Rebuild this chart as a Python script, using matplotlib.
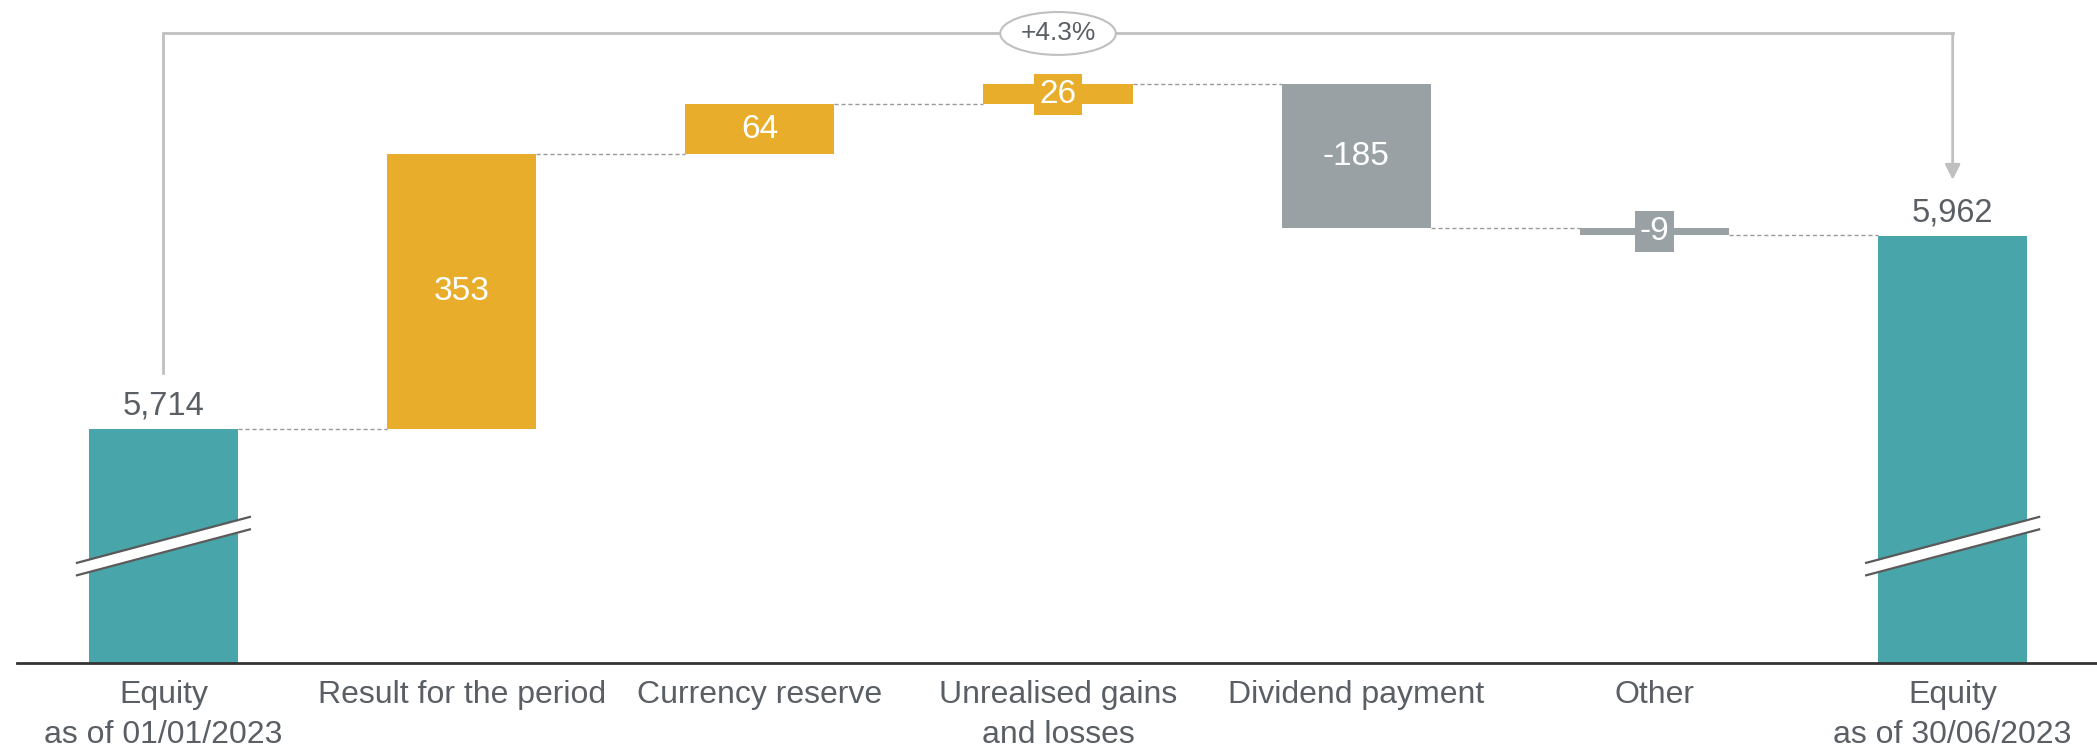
import matplotlib
matplotlib.use("Agg")
import matplotlib.pyplot as plt
import numpy as np

plt.rcParams["font.family"] = ["Liberation Sans", "DejaVu Sans"]

# data
categories = [
    "Equity\nas of 01/01/2023",
    "Result for the period",
    "Currency reserve",
    "Unrealised gains\nand losses",
    "Dividend payment",
    "Other",
    "Equity\nas of 30/06/2023",
]
start_equity = 5714
changes = [353, 64, 26, -185, -9]
end_equity = 5962
change_pct = "+4.3%"

TEAL = "#48A5AA"
GOLD = "#E8AD2A"
GREY = "#9AA1A4"
TEXT = "#595F64"
LINE = "#C0C0C0"

fig = plt.figure(figsize=(20.97, 7.52), dpi=100)
ax = fig.add_axes([0, 0.118, 1, 0.882])
ax.set_xlim(-0.548, 6.484)
ymin, ymax = 5413, 6265
ax.set_ylim(ymin, ymax)
for s in ax.spines.values():
    s.set_visible(False)
ax.set_yticks([])

w = 0.5
n = len(categories)
x = np.arange(n)

# equity bars (broken axis, drawn from the bottom)
ax.bar([x[0], x[-1]], [start_equity - ymin, end_equity - ymin], w,
       bottom=ymin, color=TEAL, zorder=2)

# floating bars
running = start_equity
levels = [start_equity]
for i, c in enumerate(changes, start=1):
    lo, hi = (running, running + c) if c >= 0 else (running + c, running)
    col = GOLD if c >= 0 else GREY
    ax.bar(x[i], hi - lo, w, bottom=lo, color=col, zorder=2)
    small = (hi - lo) < 40
    bbox = dict(boxstyle="square,pad=0.15", fc=col, ec="none") if small else None
    ax.text(x[i], (lo + hi) / 2, f"{c:d}", ha="center", va="center",
            color="white", fontsize=24, bbox=bbox, zorder=3)
    running += c
    levels.append(running)

# dashed connectors
for i in range(n - 1):
    lvl = levels[i]
    ax.plot([x[i] + w / 2, x[i + 1] - w / 2], [lvl, lvl], ls=(0, (3, 2)),
            color="#9A9A9A", lw=1, zorder=1)

# totals above equity bars
for xi, v in [(x[0], start_equity), (x[-1], end_equity)]:
    ax.annotate(f"{v:,}", (xi, v), xytext=(0, 5), textcoords="offset points",
                ha="center", va="bottom", fontsize=23.5, color=TEXT)

# axis break marks
for xi in [x[0], x[-1]]:
    bx = np.array([xi - 0.29, xi + 0.29])
    y_lo = ymin + np.array([113, 172])
    gap = 16
    ax.fill_between(bx, y_lo, y_lo + gap, color="white", zorder=3, lw=0)
    ax.plot(bx, y_lo, color="#5A5A5A", lw=1.6, zorder=4)
    ax.plot(bx, y_lo + gap, color="#5A5A5A", lw=1.6, zorder=4)

# baseline
ax.plot([-0.49, 6.484], [ymin, ymin], color="#333333", lw=2, clip_on=False, zorder=5)

# bracket with percentage change
top_y = 6222
ax.plot([x[0], x[0], x[-1]], [start_equity + 72, top_y, top_y], color=LINE, lw=2,
        zorder=1, solid_joinstyle="miter")
ax.annotate("", xy=(x[-1], end_equity + 72), xytext=(x[-1], top_y),
            arrowprops=dict(arrowstyle="-|>,head_length=0.9,head_width=0.45",
                            color=LINE, lw=2, shrinkA=0, shrinkB=0))
ax.text((x[0] + x[-1]) / 2, top_y, change_pct, ha="center", va="center",
        fontsize=19, color=TEXT,
        bbox=dict(boxstyle="ellipse,pad=0.12", fc="white", ec=LINE, lw=1.5))

# category labels
ax.set_xticks(x)
ax.set_xticklabels(categories, fontsize=23, color=TEXT, linespacing=1.42)
ax.tick_params(axis="x", length=0, pad=12)

fig.savefig("out.png", dpi=100)
plt.close(fig)
